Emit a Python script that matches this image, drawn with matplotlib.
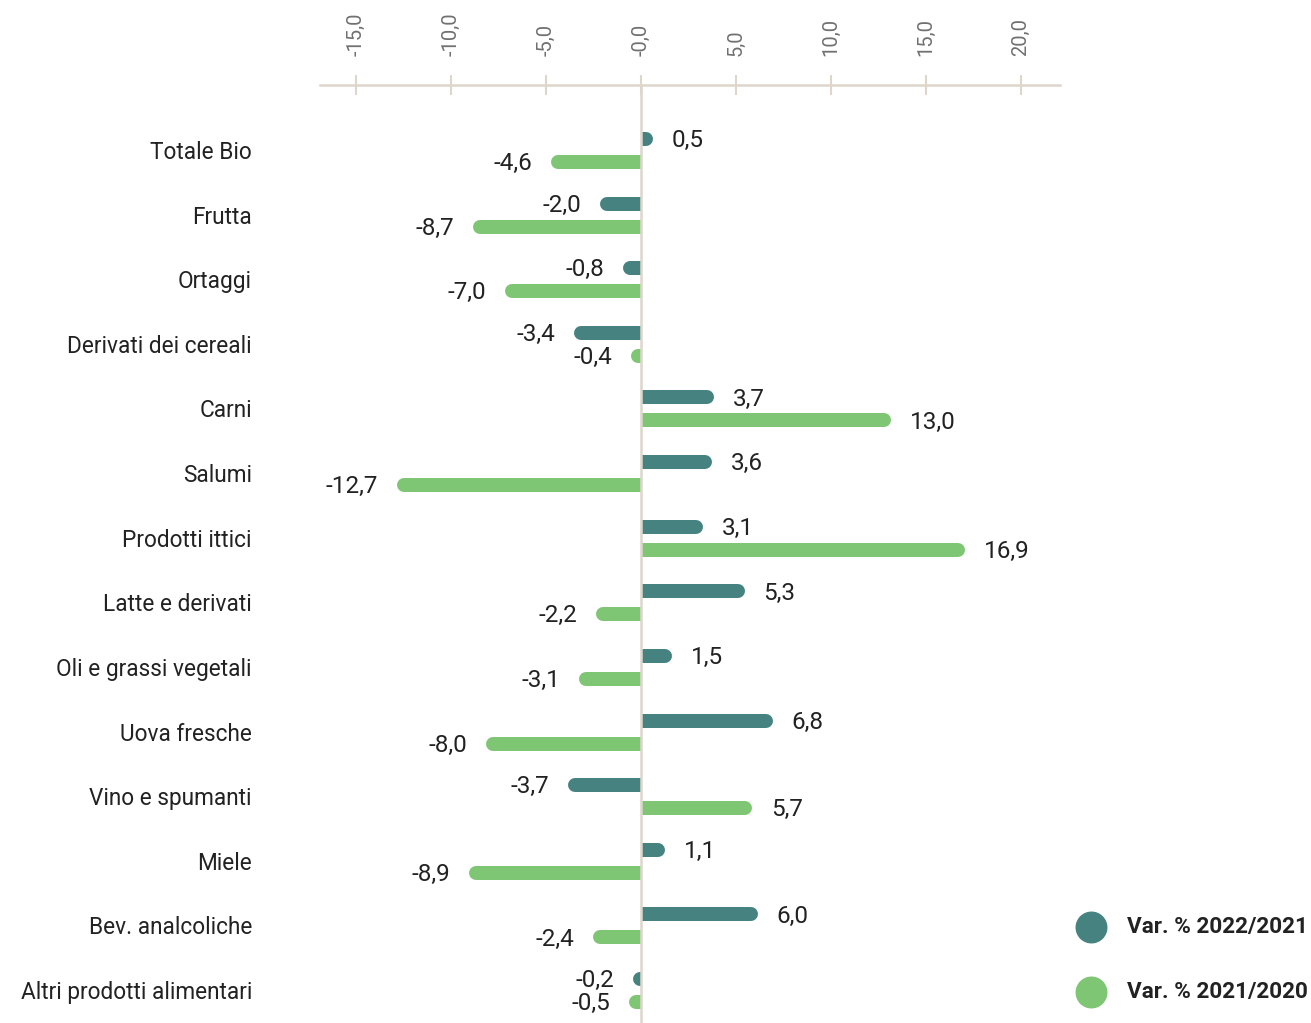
import matplotlib
matplotlib.use("Agg")
import matplotlib.pyplot as plt
from matplotlib.patches import Rectangle
import numpy as np

categories = ["Totale Bio", "Frutta", "Ortaggi", "Derivati dei cereali", "Carni",
              "Salumi", "Prodotti ittici", "Latte e derivati", "Oli e grassi vegetali",
              "Uova fresche", "Vino e spumanti", "Miele", "Bev. analcoliche",
              "Altri prodotti alimentari"]
var_2022_2021 = [0.5, -2.0, -0.8, -3.4, 3.7, 3.6, 3.1, 5.3, 1.5, 6.8, -3.7, 1.1, 6.0, -0.2]
var_2021_2020 = [-4.6, -8.7, -7.0, -0.4, 13.0, -12.7, 16.9, -2.2, -3.1, -8.0, 5.7, -8.9, -2.4, -0.5]
series_names = ["Var. % 2022/2021", "Var. % 2021/2020"]
tick_values = [-15, -10, -5, 0, 5, 10, 15, 20]
tick_labels = ["-15,0", "-10,0", "-5,0", "-0,0", "5,0", "10,0", "15,0", "20,0"]

DARK = "#468380"
GREEN = "#7ec674"
BEIGE = "#ddd6cb"
FONT = "Roboto"

W, H = 1311, 1023
fig = plt.figure(figsize=(W / 100, H / 100), dpi=100)
left, right, top, bottom = 320, 1060, 85, 1023
ax = fig.add_axes([left / W, 1 - bottom / H, (right - left) / W, (bottom - top) / H])

xmin = (320 - 641) / 19.0
xmax = (1060 - 641) / 19.0
ax.set_xlim(xmin, xmax)
n = len(categories)
ax.set_ylim(n - 1 + 0.51, -1.006)

px_per_unit = 19.0
bar_px = 14
r_data = (bar_px / 2) / px_per_unit
lw = bar_px * 0.72
offsets = [-0.17, 0.185]
colors = [DARK, GREEN]

for s, (vals, col, off) in enumerate(zip([var_2022_2021, var_2021_2020], colors, offsets)):
    for i, v in enumerate(vals):
        y = i + off
        sgn = 1 if v >= 0 else -1
        end = sgn * max(abs(v) - r_data * 0.6, 0.05)
        line, = ax.plot([0, end], [y, y], color=col, lw=lw, solid_capstyle="round", zorder=2)
        if sgn > 0:
            clip = Rectangle((0, y - 0.5), 100, 1, transform=ax.transData)
        else:
            clip = Rectangle((-100, y - 0.5), 100, 1, transform=ax.transData)
        line.set_clip_path(clip)
        lab_x = sgn * max(abs(end) + r_data, r_data)
        label = f"{v:.1f}".replace(".", ",")
        ax.annotate(label, xy=(lab_x, y), xytext=(sgn * 13.5, -1.2), textcoords="offset points",
                    ha="left" if sgn > 0 else "right", va="center", fontsize=17.5,
                    color="#222222", family=FONT, annotation_clip=False)

ax.axvline(0, color=BEIGE, lw=1.8, zorder=3)

for sp in ["left", "right", "bottom"]:
    ax.spines[sp].set_visible(False)
ax.spines["top"].set_color(BEIGE)
ax.spines["top"].set_linewidth(1.8)
ax.xaxis.tick_top()
ax.set_xticks(tick_values)
ax.set_xticklabels(tick_labels, rotation=90, fontsize=14.5, color="#707070", family=FONT)
ax.tick_params(axis="x", direction="inout", length=14, width=1.5, color=BEIGE, pad=14)

ax.set_yticks(range(n))
ax.set_yticklabels(categories, fontsize=16.3, color="#222222", family=FONT)
ax.tick_params(axis="y", length=0, pad=49)

# legend
for k, (name, col) in enumerate(zip(series_names, colors)):
    yy = 1 - (927 + 65 * k) / H
    ax.plot([1091 / W], [yy], "o", ms=22, color=col, transform=fig.transFigure, clip_on=False)
    fig.text(1127 / W, yy, name, fontsize=16.2, fontweight="bold", color="#222222",
             va="center", ha="left", family=FONT)

fig.savefig("out.png", dpi=100)
